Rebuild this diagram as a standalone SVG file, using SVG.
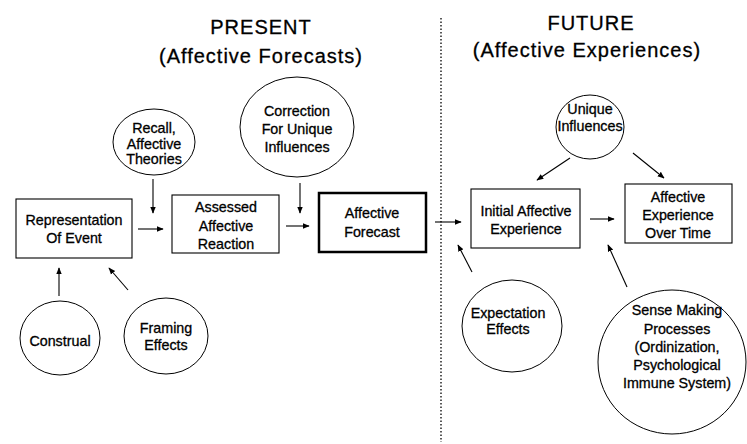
<svg xmlns="http://www.w3.org/2000/svg" width="747" height="444" viewBox="0 0 747 444">
<defs>
<marker id="ah" viewBox="0 0 10 10" refX="9" refY="5" markerWidth="7" markerHeight="7" markerUnits="userSpaceOnUse" orient="auto">
<path d="M0,1 L10,5 L0,9 z" fill="#000"/>
</marker>
</defs>
<style>
text{font-family:"Liberation Sans",Arial,sans-serif;fill:#000;text-anchor:middle;stroke:#000;stroke-width:0.3}
.t{font-size:20px;letter-spacing:1px}
.n{font-size:14.3px}
.box{fill:#fff;stroke:#000;stroke-width:1.1}
.bold{fill:#fff;stroke:#000;stroke-width:2.5}
.cir{fill:#fff;stroke:#000;stroke-width:1}
.c{stroke:#000;stroke-width:1.1;fill:none;marker-end:url(#ah)}
</style>
<rect width="747" height="444" fill="#fff"/>
<text class="t" x="261" y="34">PRESENT</text>
<text class="t" x="261" y="63">(Affective Forecasts)</text>
<text class="t" x="591" y="30">FUTURE</text>
<text class="t" x="587" y="57">(Affective Experiences)</text>
<line x1="441" y1="18" x2="441" y2="442" stroke="#000" stroke-width="1.3" stroke-dasharray="1.5,2"/>
<g id="recall"><ellipse class="cir" cx="154" cy="142" rx="41" ry="33"/><text class="n"><tspan x="154" y="133">Recall,</tspan><tspan x="154" y="148.5">Affective</tspan><tspan x="154" y="164">Theories</tspan></text></g>
<g id="correction"><ellipse class="cir" cx="297" cy="127" rx="57" ry="50"/><text class="n"><tspan x="297" y="116">Correction</tspan><tspan x="297" y="134">For Unique</tspan><tspan x="297" y="152">Influences</tspan></text></g>
<g id="unique"><ellipse class="cir" cx="590" cy="127" rx="34" ry="32"/><text class="n"><tspan x="590" y="114">Unique</tspan><tspan x="590" y="131">Influences</tspan></text></g>
<g id="representation"><rect class="box" x="16" y="199" width="116" height="59"/><text class="n"><tspan x="74" y="225">Representation</tspan><tspan x="74" y="243">Of Event</tspan></text></g>
<g id="assessed"><rect class="box" x="172" y="195" width="107" height="58"/><text class="n"><tspan x="226" y="212">Assessed</tspan><tspan x="226" y="231">Affective</tspan><tspan x="226" y="249">Reaction</tspan></text></g>
<g id="forecast"><rect class="bold" x="319" y="193" width="107" height="59"/><text class="n"><tspan x="372" y="218">Affective</tspan><tspan x="372" y="237">Forecast</tspan></text></g>
<g id="initial"><rect class="box" x="471" y="189" width="109" height="59"/><text class="n"><tspan x="526" y="216">Initial Affective</tspan><tspan x="526" y="234">Experience</tspan></text></g>
<g id="overtime"><rect class="box" x="625" y="184" width="107" height="59"/><text class="n"><tspan x="678" y="202">Affective</tspan><tspan x="678" y="220">Experience</tspan><tspan x="678" y="238">Over Time</tspan></text></g>
<g id="construal"><ellipse class="cir" cx="60" cy="338" rx="40" ry="37"/><text class="n" x="60" y="346">Construal</text></g>
<g id="framing"><ellipse class="cir" cx="166" cy="336" rx="42" ry="38"/><text class="n"><tspan x="166" y="333">Framing</tspan><tspan x="166" y="350">Effects</tspan></text></g>
<g id="expectation"><ellipse class="cir" cx="512" cy="326" rx="50" ry="46"/><text class="n"><tspan x="508" y="318">Expectation</tspan><tspan x="508" y="334">Effects</tspan></text></g>
<g id="sensemaking"><ellipse class="cir" cx="672" cy="362" rx="74" ry="72"/><text class="n"><tspan x="677" y="315">Sense Making</tspan><tspan x="677" y="334">Processes</tspan><tspan x="677" y="352">(Ordinization,</tspan><tspan x="677" y="370">Psychological</tspan><tspan x="677" y="388">Immune System)</tspan></text></g>
<g id="connectors">
<line class="c" x1="153" y1="179" x2="153" y2="213"/>
<line class="c" x1="300" y1="183" x2="300" y2="213"/>
<line class="c" x1="138" y1="229" x2="163" y2="229"/>
<line class="c" x1="286" y1="226" x2="309" y2="226"/>
<line class="c" x1="435" y1="222" x2="461" y2="222"/>
<line class="c" x1="590" y1="219" x2="614" y2="219"/>
<line class="c" x1="59" y1="296" x2="59" y2="268"/>
<line class="c" x1="128" y1="290" x2="109" y2="268"/>
<line class="c" x1="570" y1="158" x2="537" y2="180"/>
<line class="c" x1="633" y1="153" x2="664" y2="178"/>
<line class="c" x1="472" y1="272" x2="458" y2="245"/>
<line class="c" x1="627" y1="287" x2="608" y2="245"/>
</g>
</svg>
